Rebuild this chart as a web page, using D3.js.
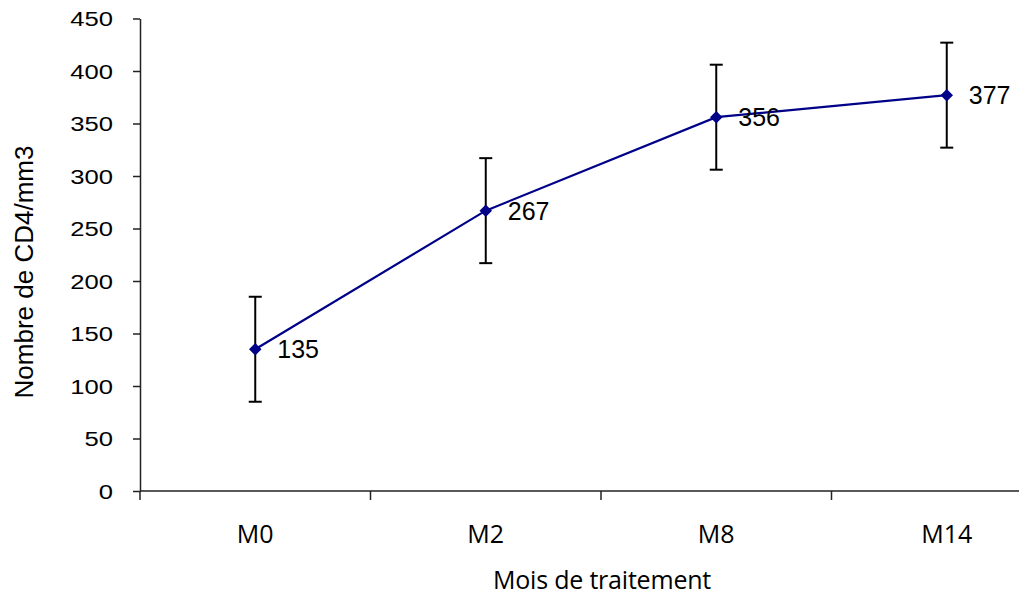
<!DOCTYPE html>
<html>
<head>
<meta charset="utf-8">
<script src="https://cdn.jsdelivr.net/npm/d3@7"></script>
<style>
  html, body { margin: 0; padding: 0; background: #fff; }
  svg { display: block; }
</style>
</head>
<body>
<svg id="chart" width="1019" height="595"></svg>
<script>
const categories = ["M0", "M2", "M8", "M14"];
const values = [135, 267, 356, 377];
const errors = [50, 50, 50, 50];
const yTicks = [0, 50, 100, 150, 200, 250, 300, 350, 400, 450];
const yTitle = "Nombre de CD4/mm3";
const xTitle = "Mois de traitement";

const svg = d3.select("#chart");
const W = 1019, H = 595;
const x0 = 140, x1 = 1062, yTop = 18.5, yBot = 491;

const x = d3.scaleBand().domain(categories).range([x0, x1]).paddingInner(0).paddingOuter(0);
const y = d3.scaleLinear().domain([0, 450]).range([yBot, yTop]);
const cx = d => x(d) + x.bandwidth() / 2;

const axisColor = "#222";

// Y axis
const yAxis = d3.axisLeft(y).tickValues(yTicks).tickSize(7).tickSizeOuter(0);
const gy = svg.append("g").attr("transform", `translate(${x0},0)`).call(yAxis);
gy.select(".domain").attr("stroke", axisColor).attr("stroke-width", 1.5);
gy.selectAll(".tick line").attr("stroke", axisColor).attr("stroke-width", 1.5);
gy.selectAll(".tick text")
  .attr("font-family", "'Liberation Sans', Arial, sans-serif")
  .attr("font-size", 20.5)
  .attr("fill", "#000")
  .attr("x", -27 / 1.25)
  .attr("dy", "0.36em")
  .attr("transform", "scale(1.25,1)");

// X axis line and boundary ticks
svg.append("line")
  .attr("x1", x0).attr("x2", W).attr("y1", yBot).attr("y2", yBot)
  .attr("stroke", axisColor).attr("stroke-width", 1.5);
const bounds = categories.map(c => x(c));
svg.append("g").selectAll("line").data(bounds).join("line")
  .attr("x1", d => d).attr("x2", d => d)
  .attr("y1", yBot).attr("y2", yBot + 9)
  .attr("stroke", axisColor).attr("stroke-width", 1.5);

// Category labels
svg.append("g").selectAll("text").data(categories).join("text")
  .attr("x", d => cx(d)).attr("y", 543)
  .attr("text-anchor", "middle")
  .attr("font-family", "'Open Sans', sans-serif")
  .attr("font-size", 25)
  .attr("fill", "#000")
  .text(d => d);

// Titles
svg.append("text")
  .attr("x", 602).attr("y", 589)
  .attr("text-anchor", "middle")
  .attr("font-family", "'Open Sans', sans-serif")
  .attr("font-size", 25)
  .attr("letter-spacing", -0.2)
  .attr("fill", "#000")
  .text(xTitle);

svg.append("text")
  .attr("transform", "translate(33,272) rotate(-90)")
  .attr("text-anchor", "middle")
  .attr("font-family", "'Liberation Sans', Arial, sans-serif")
  .attr("font-size", 26)
  .attr("fill", "#000")
  .text(yTitle);

// Error bars
const eb = svg.append("g").attr("stroke", "#000").attr("stroke-width", 2);
categories.forEach((c, i) => {
  const px = cx(c);
  const top = y(values[i] + errors[i]);
  const bot = y(values[i] - errors[i]);
  eb.append("line").attr("x1", px).attr("x2", px).attr("y1", top).attr("y2", bot);
  eb.append("line").attr("x1", px - 6.5).attr("x2", px + 6.5).attr("y1", top).attr("y2", top);
  eb.append("line").attr("x1", px - 6.5).attr("x2", px + 6.5).attr("y1", bot).attr("y2", bot);
});

// Line
const line = d3.line().x((d, i) => cx(categories[i])).y(d => y(d));
svg.append("path").datum(values)
  .attr("d", line)
  .attr("fill", "none")
  .attr("stroke", "#000088")
  .attr("stroke-width", 2.2);

// Markers (diamonds)
const diamond = d3.symbol().type(d3.symbolDiamond2).size(100);
svg.append("g").selectAll("path").data(values).join("path")
  .attr("d", diamond)
  .attr("transform", (d, i) => `translate(${cx(categories[i])},${y(d)})`)
  .attr("fill", "#000088");

// Data labels
svg.append("g").selectAll("text").data(values).join("text")
  .attr("x", (d, i) => cx(categories[i]) + 22)
  .attr("y", d => y(d))
  .attr("dy", "0.36em")
  .attr("font-family", "'Liberation Sans', Arial, sans-serif")
  .attr("font-size", 25)
  .attr("fill", "#000")
  .text(d => d);
</script>
</body>
</html>
